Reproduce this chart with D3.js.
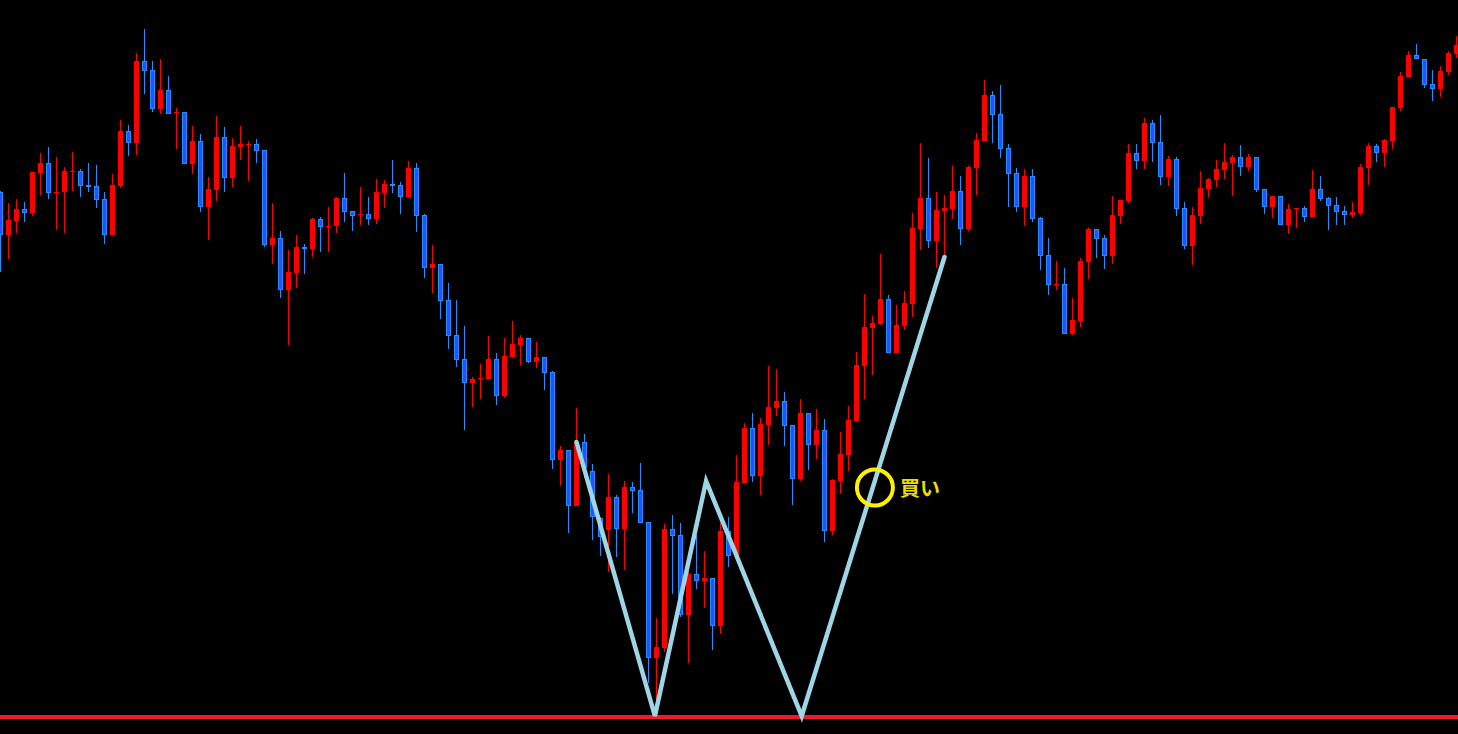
<!DOCTYPE html>
<html>
<head>
<meta charset="utf-8">
<script src="https://cdn.jsdelivr.net/npm/d3@7"></script>
<style>
  html, body { margin: 0; padding: 0; background: #000; overflow: hidden; }
  svg { display: block; }
</style>
</head>
<body>
<svg id="chart" width="1458" height="734"></svg>
<script>
// Price values (points above base), one entry per candle
const opens = [542,499,513,525,521,561,571,541,542,562,563,549,548,535,499,548,603,591,673,664,625,644,621,622,570,593,527,544,597,556,587,589,590,584,489,496,444,461,487,485,515,507,508,536,523,519,520,515,541,550,549,537,566,519,466,470,434,399,375,351,355,355,375,338,377,389,396,372,377,362,274,284,228,292,263,216,204,237,205,247,244,212,76,86,205,199,119,160,153,156,108,203,179,251,306,258,309,326,333,309,255,321,289,304,203,253,279,313,368,406,410,435,381,408,430,505,536,493,523,525,543,505,566,593,639,620,586,561,527,558,516,479,449,450,400,413,472,505,496,478,518,533,581,573,611,592,557,575,526,488,518,545,554,564,571,577,567,577,545,527,538,509,525,526,517,545,536,529,523,519,521,566,588,581,593,626,657,679,675,650,645,662,680];
const highs = [543,531,535,532,562,581,587,577,567,582,565,571,569,542,560,614,609,681,705,673,675,658,626,622,608,600,557,618,607,596,608,593,595,584,531,503,484,499,490,516,517,527,537,561,523,547,537,555,554,574,552,573,571,520,489,470,451,434,408,357,370,398,381,396,413,399,396,392,377,363,288,284,326,300,270,217,260,239,253,252,271,212,116,210,219,211,162,199,183,156,211,217,279,311,321,316,368,365,342,309,335,321,325,315,255,302,328,382,440,418,480,439,429,443,521,591,576,542,539,568,558,568,601,654,643,649,590,566,565,565,517,496,473,466,436,476,506,505,499,538,534,590,590,616,614,619,578,577,532,527,563,556,574,591,579,589,580,577,545,538,538,530,526,528,564,558,537,537,528,532,570,591,590,595,627,662,683,690,675,664,668,683,698];
const lows = [462,475,501,512,518,539,535,504,501,543,537,542,526,490,498,546,578,579,640,622,620,620,585,570,560,522,494,533,542,547,574,553,571,487,470,436,389,446,460,477,482,482,501,512,503,509,509,510,526,541,520,537,502,456,441,415,385,367,304,327,335,354,329,336,376,369,371,366,344,265,248,201,228,256,194,178,162,177,164,221,211,51,34,82,140,117,71,145,126,84,100,167,178,250,252,239,289,318,288,229,253,264,275,192,199,240,263,312,335,359,409,381,381,404,417,484,486,466,477,515,489,503,539,593,591,576,527,522,508,512,464,439,444,400,399,407,455,476,465,470,510,531,565,565,572,549,548,518,485,469,510,536,547,555,538,558,563,542,520,516,509,500,506,512,517,533,504,509,509,516,519,549,572,567,585,623,657,675,646,633,637,659,676];
const closes = [499,514,525,521,562,571,541,542,563,563,548,547,534,499,549,603,591,673,663,625,644,620,622,570,593,527,545,597,556,588,590,590,583,489,496,444,462,487,485,515,507,508,536,522,518,520,515,542,550,548,537,566,518,466,470,433,398,374,351,355,356,375,338,378,390,396,372,377,361,274,284,228,292,266,217,197,237,205,247,243,211,76,87,205,198,119,160,153,156,108,203,178,252,306,258,310,327,333,308,255,321,289,304,203,254,280,314,369,407,411,435,381,409,431,506,536,493,524,526,543,505,567,594,639,619,585,560,527,558,515,478,449,450,400,414,473,505,495,478,519,534,581,573,611,591,557,575,525,488,519,546,555,565,572,577,567,577,544,527,538,509,525,526,517,545,535,528,522,519,522,567,588,581,594,627,658,679,675,649,645,663,681,689];

// Annotation data: W pattern pivots [candle index, price]
const wIndex = [72, 81.8, 88.2, 100.15, 118];
const wPrice = [292, 18, 253, 18, 477];
const supportPrice = 17;
const buyIndex = 109.3;
const buyPrice = 246.5;
const buyLabel = "買い";

const W = 1458, H = 734;
const svg = d3.select("#chart");
svg.append("rect").attr("width", W).attr("height", H).attr("fill", "#000");

const n = opens.length;
const x = d3.scaleLinear().domain([0, n - 1]).range([0.5, 1456.5]);
const y = d3.scaleLinear().domain([0, 734]).range([734, 0]);

const candles = d3.range(n).map(i => ({
  i, o: opens[i], h: highs[i], l: lows[i], c: closes[i], up: closes[i] >= opens[i]
}));

const RED = "#ff0000", BLUE_LINE = "#1e90ff", BLUE_FILL = "#2f4dff";

const g = svg.append("g").attr("shape-rendering", "crispEdges");

// wicks
g.selectAll("line.wick").data(candles).enter().append("line")
  .attr("class", "wick")
  .attr("x1", d => x(d.i)).attr("x2", d => x(d.i))
  .attr("y1", d => y(d.h)).attr("y2", d => y(d.l))
  .attr("stroke", d => d.up ? RED : BLUE_LINE)
  .attr("stroke-width", 1);

// bodies
g.selectAll("rect.up").data(candles.filter(d => d.up)).enter().append("rect")
  .attr("x", d => x(d.i) - 2.5)
  .attr("width", 5)
  .attr("y", d => y(d.c))
  .attr("height", d => Math.max(1, y(d.o) - y(d.c)))
  .attr("fill", RED);

g.selectAll("rect.down").data(candles.filter(d => !d.up)).enter().append("rect")
  .attr("x", d => x(d.i) - 2)
  .attr("width", 4)
  .attr("y", d => y(d.o) + 0.5)
  .attr("height", d => Math.max(0.5, y(d.c) - y(d.o) - 1))
  .attr("fill", BLUE_FILL)
  .attr("stroke", BLUE_LINE)
  .attr("stroke-width", 1);

// support line
svg.append("line")
  .attr("x1", 0).attr("x2", W)
  .attr("y1", y(supportPrice)).attr("y2", y(supportPrice))
  .attr("stroke", "#ee1c25").attr("stroke-width", 4);

// W pattern line
const wPts = wIndex.map((v, k) => [x(v), y(wPrice[k])]);
svg.append("path")
  .attr("d", d3.line()(wPts))
  .attr("fill", "none")
  .attr("stroke", "#9fd6e6")
  .attr("stroke-width", 4.5)
  .attr("stroke-linejoin", "miter")
  .attr("stroke-linecap", "round");

// buy marker
const bx = x(buyIndex), by = y(buyPrice);
svg.append("circle")
  .attr("cx", bx).attr("cy", by).attr("r", 18)
  .attr("fill", "none").attr("stroke", "#fff000").attr("stroke-width", 4);
svg.append("text")
  .attr("x", bx + 25).attr("y", by)
  .attr("dominant-baseline", "central")
  .attr("fill", "#ecdc00")
  .attr("font-family", "'Noto Sans CJK JP', sans-serif")
  .attr("font-weight", "bold")
  .attr("font-size", 20)
  .text(buyLabel);
</script>
</body>
</html>
